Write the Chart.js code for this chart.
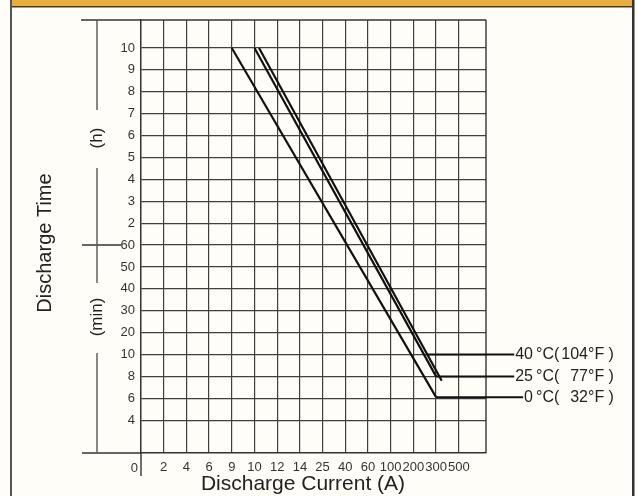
<!DOCTYPE html>
<html>
<head>
<meta charset="utf-8">
<script src="https://cdn.jsdelivr.net/npm/chart.js@4.4.0/dist/chart.umd.min.js"></script>
<style>
html, body { margin: 0; padding: 0; background: #fffdf8; }
</style>
</head>
<body>
<canvas id="c" width="637" height="496"></canvas>
<script>
// tick labels as printed on the chart
const currentTicks = [0, 2, 4, 6, 9, 10, 12, 14, 25, 40, 60, 100, 200, 300, 500];
const minuteTicks = [4, 6, 8, 10, 20, 30, 40, 50, 60];
const hourTicks = [2, 3, 4, 5, 6, 7, 8, 9, 10];

// curves: discharge current (A) and discharge time (min)
const current40 = [10.4, 350];
const time40 = [600, 7.6];
const current25 = [10, 300];
const time25 = [600, 8];
const current0 = [9, 300];
const time0 = [600, 6.1];

// legend text and the time (min) each leader line sits at
const tempC = ['40', '25', '0'];
const tempF = ['104', '77', '32'];
const labelAt = [10, 8, 6.1];

const timeTicks = minuteTicks.concat(hourTicks.map(h => h * 60));
const FONT = "'Liberation Sans', Arial, sans-serif";

// the printed axes are evenly spaced per tick, so map a value to its tick slot
function slot(v, ticks, offset) {
    for (let i = 0; i < ticks.length - 1; i++) {
        if (v <= ticks[i + 1]) return offset + i + (v - ticks[i]) / (ticks[i + 1] - ticks[i]);
    }
    return offset + ticks.length - 1;
}
const xi = v => slot(v, currentTicks, 0);
const yi = v => slot(v, timeTicks, 1.5);

function pts(cur, tm) {
    return cur.map((c, i) => ({ x: xi(c), y: yi(tm[i]) }));
}

function line(c, x1, y1, x2, y2) {
    c.beginPath(); c.moveTo(x1, y1); c.lineTo(x2, y2); c.stroke();
}

function vtext(c, s, x, y, size) {
    c.save();
    c.translate(x, y); c.rotate(-Math.PI / 2);
    c.font = size + 'px ' + FONT;
    c.textAlign = 'center'; c.textBaseline = 'middle';
    c.fillText(s, 0, 0);
    c.restore();
}

const frame = {
    id: 'frame',
    beforeDraw(chart) {
        const c = chart.ctx;
        c.save();
        c.fillStyle = '#fffdf8'; c.fillRect(0, 0, 637, 496);
        c.fillStyle = '#e9ad3e'; c.fillRect(10, 0, 624, 6);
        c.fillStyle = '#4b3c22'; c.fillRect(10, 6, 624, 1.5);
        c.fillStyle = '#555'; c.fillRect(10, 0, 2, 496);
        c.fillStyle = '#333'; c.fillRect(632, 0, 2.5, 496);
        c.restore();
    },
    afterDraw(chart) {
        const c = chart.ctx, a = chart.chartArea, x = chart.scales.x, y = chart.scales.y;
        c.save();
        c.strokeStyle = '#333'; c.lineWidth = 1.4;
        line(c, 81, a.top, a.right, a.top);
        line(c, a.right, a.top, a.right, a.bottom);
        line(c, 82, a.bottom, a.left, a.bottom);
        line(c, a.left, a.bottom, a.left, a.bottom + 23);
        const y60 = y.getPixelForValue(yi(60));
        line(c, 82, y60, 121, y60);
        c.strokeStyle = '#555';
        line(c, 97, a.top, 97, 110);
        line(c, 97, 168, 97, 283);
        line(c, 97, 353, 97, a.bottom);

        c.fillStyle = '#222';
        vtext(c, 'Discharge Time', 45, 243, 20);
        vtext(c, '(h)', 97, 138, 17);
        vtext(c, '(min)', 97, 317, 17);
        c.font = '21px ' + FONT;
        c.textAlign = 'center'; c.textBaseline = 'middle';
        c.fillText('Discharge Current (A)', 303, 484);
        c.fillStyle = '#333';
        c.font = '13px ' + FONT;
        c.textAlign = 'right';
        c.fillText(String(currentTicks[0]), x.getPixelForValue(0) - 3, 468);

        // legend leaders and labels
        c.font = '16px ' + FONT;
        c.strokeStyle = '#111'; c.lineWidth = 2;
        chart.data.datasets.forEach((ds, i) => {
            const p = chart.getDatasetMeta(i).data;
            const ly = y.getPixelForValue(yi(labelAt[i]));
            let lx = p[p.length - 1].x;
            for (let k = 0; k < p.length - 1; k++) {
                const a0 = p[k], a1 = p[k + 1];
                if ((ly - a0.y) * (ly - a1.y) <= 0 && a1.y !== a0.y) {
                    lx = a0.x + (ly - a0.y) / (a1.y - a0.y) * (a1.x - a0.x);
                }
            }
            const nx = 533;
            const start = nx - c.measureText(tempC[i]).width;
            line(c, lx, ly, start - 1, ly);
            c.fillStyle = '#222';
            c.textBaseline = 'middle';
            c.textAlign = 'right'; c.fillText(tempC[i], nx, ly);
            c.textAlign = 'left'; c.fillText('°C(', 536, ly);
            c.textAlign = 'right'; c.fillText(tempF[i], 588, ly);
            c.textAlign = 'left'; c.fillText('°F )', 588, ly);
        });
        c.restore();
    }
};

const lineStyle = { showLine: true, borderColor: '#111', borderWidth: 2.2, pointRadius: 0, tension: 0, fill: false };

new Chart(document.getElementById('c'), {
    type: 'scatter',
    data: {
        datasets: [
            Object.assign({ label: '40 °C', data: pts(current40, time40) }, lineStyle),
            Object.assign({ label: '25 °C', data: pts(current25, time25) }, lineStyle),
            Object.assign({ label: '0 °C', data: pts(current0, time0) }, lineStyle)
        ]
    },
    options: {
        responsive: false,
        animation: false,
        layout: { padding: { left: 0, right: 151, top: 20, bottom: 0 } },
        plugins: { legend: { display: false }, tooltip: { enabled: false } },
        scales: {
            x: {
                type: 'linear', min: 0, max: 15.2,
                afterBuildTicks: s => { s.ticks = currentTicks.map((v, i) => ({ value: i })); },
                afterFit: s => { s.height = 43; },
                ticks: {
                    autoSkip: false, maxRotation: 0, minRotation: 0, padding: 7, color: '#333',
                    font: { family: "'Liberation Sans Narrow', 'Liberation Sans', Arial", size: 13 },
                    callback: (v, i) => i === 0 ? '' : String(currentTicks[i])
                },
                grid: { color: '#404040', lineWidth: 1.2, drawTicks: false },
                border: { color: '#333', width: 1.4 }
            },
            y: {
                type: 'linear', min: 0, max: 19.78,
                afterBuildTicks: s => { s.ticks = timeTicks.map((v, i) => ({ value: i + 1.5 })); },
                afterFit: s => { s.width = 141; },
                ticks: {
                    autoSkip: false, padding: 6, color: '#333',
                    font: { family: FONT, size: 13 },
                    callback: (v, i) => i < minuteTicks.length ? String(timeTicks[i]) : String(timeTicks[i] / 60)
                },
                grid: { color: '#404040', lineWidth: 1.2, drawTicks: false },
                border: { color: '#333', width: 1.4 }
            }
        }
    },
    plugins: [frame]
});
</script>
</body>
</html>
